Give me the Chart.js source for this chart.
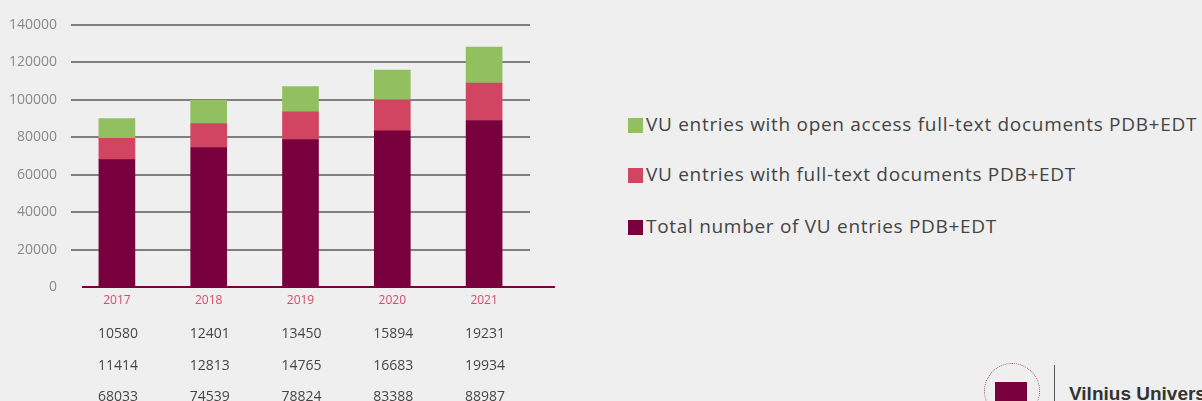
<!DOCTYPE html>
<html>
<head>
<meta charset="utf-8">
<script src="https://cdn.jsdelivr.net/npm/chart.js@4"></script>
<style>
  html, body { margin: 0; padding: 0; background: #efefef; overflow: hidden; }
  body { width: 1202px; height: 401px; position: relative; font-family: "Open Sans", "Noto Sans", sans-serif; }
  #wrap { position: absolute; left: 0; top: 0; width: 600px; height: 401px; }
  #legend { position: absolute; left: 628px; top: 0; }
  .item { position: absolute; left: 0; white-space: nowrap; color: #444; font-size: 19px; letter-spacing: 0.7px; line-height: 22px; }
  .item span.box { display: inline-block; width: 15px; height: 15px; vertical-align: -2px; margin-right: 3px; }
  #logo-line { position: absolute; left: 1054px; top: 365px; width: 1px; height: 40px; background: #555; }
  #seal { position: absolute; left: 984px; top: 363px; width: 56px; height: 56px; border-radius: 50%; border: 1px dotted #a05070; box-sizing: border-box; }
  #seal-sq { position: absolute; left: 995px; top: 382px; width: 32px; height: 24px; background: #78003c; }
  #logo-text { position: absolute; left: 1069px; top: 383px; font: bold 19px "Liberation Sans", Arial, sans-serif; color: #333; white-space: nowrap; }
</style>
</head>
<body>
<div id="wrap"><canvas id="chart"></canvas></div>
<div id="legend"></div>
<div id="seal"></div>
<div id="seal-sq"></div>
<div id="logo-line"></div>
<div id="logo-text">Vilnius University</div>
<script>
const years = ["2017", "2018", "2019", "2020", "2021"];
const openAccess = [10580, 12401, 13450, 15894, 19231];
const fullText = [11414, 12813, 14765, 16683, 19934];
const total = [68033, 74539, 78824, 83388, 88987];

const labels = {
  open: "VU entries with open access full-text documents PDB+EDT",
  full: "VU entries with full-text documents PDB+EDT",
  total: "Total number of VU entries PDB+EDT"
};

// table rows under the axis, top row first
const tableRows = [openAccess, fullText, total];

const tablePlugin = {
  id: "tableRows",
  afterDraw(chart) {
    const ctx = chart.ctx;
    const x = chart.scales.x;
    const area = chart.chartArea;
    // base line of the category axis
    ctx.save();
    ctx.strokeStyle = "#78003c";
    ctx.lineWidth = 2;
    ctx.beginPath();
    ctx.moveTo(area.left + 11, area.bottom);
    ctx.lineTo(area.right + 25, area.bottom);
    ctx.stroke();

    ctx.fillStyle = "#474747";
    ctx.font = "14px 'Open Sans', 'Noto Sans', sans-serif";
    ctx.textAlign = "center";
    ctx.textBaseline = "middle";
    const rowY = [334, 366, 397];
    tableRows.forEach((row, r) => {
      row.forEach((v, i) => {
        ctx.fillText(String(v), x.getPixelForValue(i) + 1, rowY[r]);
      });
    });
    ctx.restore();
  }
};

const chart = new Chart(document.getElementById("chart"), {
  type: "bar",
  data: {
    labels: years,
    datasets: [
      { label: labels.total, data: total, backgroundColor: "#78003c" },
      { label: labels.full, data: fullText, backgroundColor: "#d14462" },
      { label: labels.open, data: openAccess, backgroundColor: "#92bf5f" }
    ]
  },
  options: {
    responsive: true,
    maintainAspectRatio: false,
    animation: false,
    layout: { padding: { top: 25, right: 70, left: 0, bottom: 0 } },
    datasets: { bar: { barThickness: 36 } },
    plugins: { legend: { display: false }, tooltip: { enabled: false } },
    scales: {
      x: {
        stacked: true,
        grid: { display: false, drawTicks: false },
        border: { display: false },
        ticks: { color: "#d64a6a", font: { size: 12, family: "'Open Sans', 'Noto Sans', sans-serif" }, padding: 6 },
        afterFit(s) { s.height = 114; }
      },
      y: {
        stacked: true,
        min: 0,
        max: 140000,
        grid: {
          drawTicks: false,
          lineWidth: 2,
          color: c => c.tick && c.tick.value === 0 ? "rgba(0,0,0,0)" : "#808080"
        },
        border: { display: false },
        ticks: {
          stepSize: 20000,
          color: "#8a8a8a",
          padding: 14,
          font: { size: 14, family: "'Open Sans', 'Noto Sans', sans-serif" },
          callback: v => String(v)
        },
        afterFit(s) { s.width = 71; }
      }
    }
  },
  plugins: [tablePlugin]
});

// legend on the right, drawn from the datasets (reverse order)
const legend = document.getElementById("legend");
const legendY = [113, 163, 215];
chart.data.datasets.slice().reverse().forEach((ds, i) => {
  const d = document.createElement("div");
  d.className = "item";
  d.style.top = legendY[i] + "px";
  d.innerHTML = '<span class="box" style="background:' + ds.backgroundColor + '"></span>';
  d.appendChild(document.createTextNode(ds.label));
  legend.appendChild(d);
});
</script>
</body>
</html>
